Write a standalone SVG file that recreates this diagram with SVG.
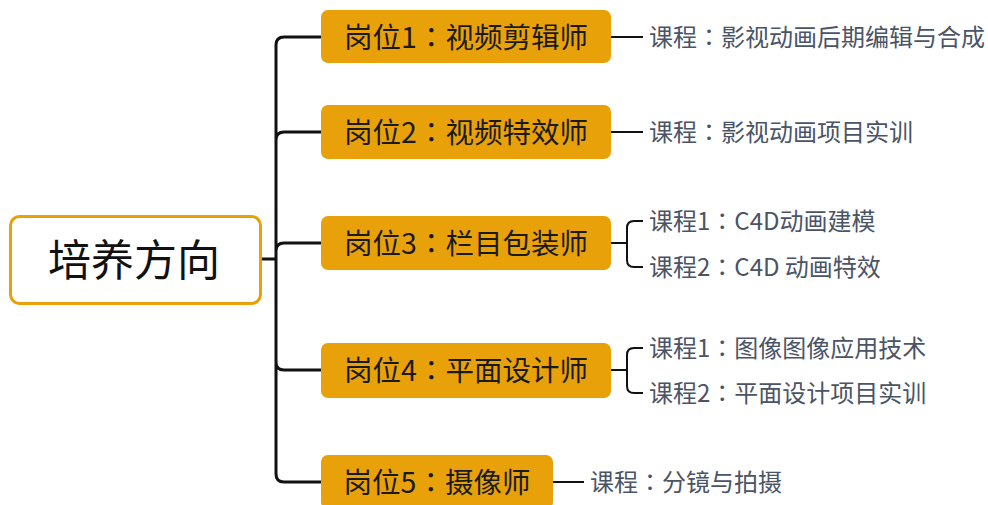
<svg xmlns="http://www.w3.org/2000/svg" width="988" height="505" viewBox="0 0 988 505">
<style>
.node{fill:#E8A108;}
.ntext{font-family:"Noto Sans CJK SC","Noto Sans",sans-serif;font-size:28.5px;fill:#1a1a1a;text-anchor:middle;dominant-baseline:central;}
.ctext{font-family:"Noto Sans CJK SC","Noto Sans",sans-serif;font-size:24px;fill:#4a5466;dominant-baseline:central;}
.c{font-family:"Noto Sans CJK TC","Noto Sans CJK JP",sans-serif;}
.trunk{fill:none;stroke:#111;stroke-width:3;stroke-linecap:round;stroke-linejoin:round;}
.sub{fill:none;stroke:#111;stroke-width:2;stroke-linejoin:round;}
</style>
<rect width="988" height="505" fill="#ffffff"/>
<g id="connectors">
<path class="trunk" d="M262 259 H276 M276 45 Q276 37 284 37 H321 M276 140 Q276 132 284 132 H321 M276 251 Q276 243 284 243 H321 M276 362 Q276 370 284 370 H321 M276 474 Q276 482 284 482 H321 M276 45 V474"/>
<path class="sub" d="M611 37 H643"/>
<path class="sub" d="M611 132 H643"/>
<path class="sub" d="M611 243 H627 M643 221 H634 Q627 221 627 228 V260 Q627 267 634 267 H643"/>
<path class="sub" d="M611 370 H627 M643 348 H634 Q627 348 627 355 V386 Q627 393 634 393 H643"/>
<path class="sub" d="M553 482 H584"/>
</g>
<g id="root">
<rect x="10.5" y="216.5" width="250" height="87" rx="9" fill="#fff" stroke="#E8A108" stroke-width="3"/>
<text x="134" y="257" font-family="Noto Sans CJK SC,Noto Sans,sans-serif" font-size="43" fill="#111" text-anchor="middle" dominant-baseline="central">培养方向</text>
</g>
<g id="job1">
<rect class="node" x="321" y="10" width="290" height="53" rx="7"/>
<text class="ntext" x="466" y="35">岗位1<tspan class="c">：</tspan>视频剪辑师</text>
</g>
<g id="job2">
<rect class="node" x="321" y="105" width="290" height="54" rx="7"/>
<text class="ntext" x="466" y="130">岗位2<tspan class="c">：</tspan>视频特效师</text>
</g>
<g id="job3">
<rect class="node" x="321" y="216" width="290" height="54" rx="7"/>
<text class="ntext" x="466" y="241">岗位3<tspan class="c">：</tspan>栏目包装师</text>
</g>
<g id="job4">
<rect class="node" x="321" y="343" width="290" height="55" rx="7"/>
<text class="ntext" x="466" y="368">岗位4<tspan class="c">：</tspan>平面设计师</text>
</g>
<g id="job5">
<rect class="node" x="321" y="455" width="232" height="54" rx="7"/>
<text class="ntext" x="437" y="480">岗位5<tspan class="c">：</tspan>摄像师</text>
</g>
<g id="course1"><text class="ctext" x="649" y="35">课程<tspan class="c">：</tspan>影视动画后期编辑与合成</text></g>
<g id="course2"><text class="ctext" x="649" y="130">课程<tspan class="c">：</tspan>影视动画项目实训</text></g>
<g id="course3a"><text class="ctext" x="649" y="219">课程1<tspan class="c">：</tspan>C4D动画建模</text></g>
<g id="course3b"><text class="ctext" x="649" y="265">课程2<tspan class="c">：</tspan>C4D 动画特效</text></g>
<g id="course4a"><text class="ctext" x="649" y="346">课程1<tspan class="c">：</tspan>图像图像应用技术</text></g>
<g id="course4b"><text class="ctext" x="649" y="391">课程2<tspan class="c">：</tspan>平面设计项目实训</text></g>
<g id="course5"><text class="ctext" x="590" y="480">课程<tspan class="c">：</tspan>分镜与拍摄</text></g>
</svg>
